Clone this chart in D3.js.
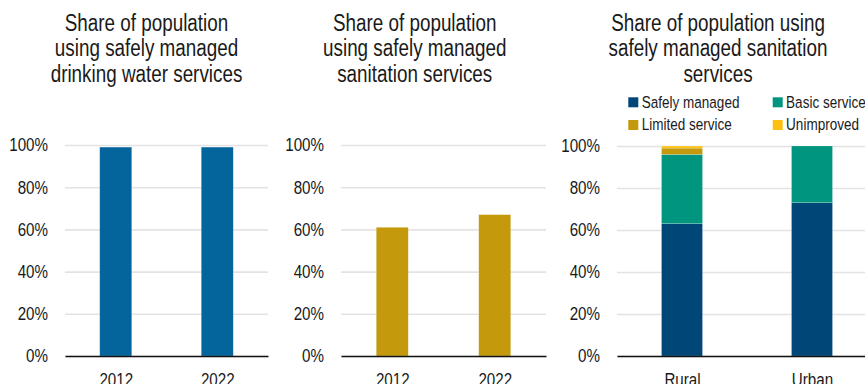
<!DOCTYPE html>
<html>
<head>
<meta charset="utf-8">
<script src="https://cdn.jsdelivr.net/npm/d3@7"></script>
<style>
  html, body { margin: 0; padding: 0; background: #fff; }
  svg { display: block; }
  text { font-family: "Liberation Sans Narrow", "Arial Narrow", "Liberation Sans", Arial, sans-serif; fill: #1a1a1a; }
</style>
</head>
<body>
<svg id="chart" width="865" height="384"></svg>
<script>
// Drinking water: share using safely managed services
const waterYears = ["2012", "2022"];
const waterValues = [99, 99];

// Sanitation: share using safely managed services
const sanitationYears = ["2012", "2022"];
const sanitationValues = [61, 67];

// Sanitation by area, service ladder (percent)
const areas = ["Rural", "Urban"];
const serviceLevels = ["Safely managed", "Basic service", "Limited service", "Unimproved"];
const safelyManaged = [63, 73];
const basicService = [33, 27];
const limitedService = [3, 0];
const unimproved = [1, 0];

const yTicks = [0, 20, 40, 60, 80, 100];

const colors = {
  water: "#04649c",
  sanitation: "#c49a0c",
  "Safely managed": "#004676",
  "Basic service": "#00957f",
  "Limited service": "#c49a0c",
  "Unimproved": "#fec010"
};

const svg = d3.select("#chart");
const TITLE_SIZE = 23, TICK_SIZE = 18.5, LEGEND_SIZE = 16.5;

// Condensed lettering: use a narrow face when present, otherwise squeeze horizontally.
const probe = svg.append("text").style("font-size", "20px").text("Share of population");
const probeWidth = probe.node().getComputedTextLength();
probe.remove();
const SQ = probeWidth > 150 ? 0.82 : 1;   // regular-width face measures ~173px

function title(lines, cx) {
  const t = svg.append("text").attr("text-anchor", "middle")
    .attr("transform", `translate(${cx},0) scale(${SQ},1)`)
    .style("font-size", TITLE_SIZE + "px");
  lines.forEach((ln, i) => t.append("tspan").attr("x", 0).attr("y", 30.7 + i * 25.5).text(ln));
}

function panel(cfg) {
  const g = svg.append("g");
  const y = d3.scaleLinear().domain([0, 100]).range([cfg.y0, cfg.y1]);
  const x = d3.scalePoint().domain(cfg.categories).range([cfg.x0, cfg.x1]).padding(0.5);

  // horizontal gridlines with percent labels
  const yAxis = g.append("g").attr("transform", `translate(${cfg.x0},0)`)
    .call(d3.axisLeft(y).tickValues(yTicks).tickFormat(d => d + "%")
      .tickSize(-(cfg.x1 - cfg.x0)).tickPadding(17));
  yAxis.select(".domain").remove();
  yAxis.selectAll("line").attr("stroke", "#e3e3e3").attr("stroke-width", 1.6);
  yAxis.selectAll("text").style("font-size", TICK_SIZE + "px").attr("fill", "#1a1a1a").attr("font-family", null)
    .attr("x", -17 / SQ).attr("transform", `scale(${SQ},1)`);

  const bars = g.append("g");
  if (cfg.stacks) {
    const rows = cfg.categories.map((c, i) => {
      const r = { cat: c };
      cfg.keys.forEach(k => r[k] = cfg.stacks[k][i]);
      return r;
    });
    const series = d3.stack().keys(cfg.keys)(rows);
    series.forEach(s => {
      bars.selectAll(null).data(s.filter(d => d[1] - d[0] > 0)).join("rect")
        .attr("x", d => x(d.data.cat) - cfg.barW / 2)
        .attr("width", cfg.barW)
        .attr("y", d => y(d[1]))
        .attr("height", d => y(d[0]) - y(d[1]))
        .attr("fill", colors[s.key])
        .attr("stroke", "rgba(255,255,255,0.35)").attr("stroke-width", 0.6);
    });
  } else {
    bars.selectAll("rect").data(cfg.values).join("rect")
      .attr("x", (d, i) => x(cfg.categories[i]) - cfg.barW / 2)
      .attr("width", cfg.barW)
      .attr("y", d => y(d))
      .attr("height", d => y(0) - y(d))
      .attr("fill", cfg.color)
      .attr("stroke", "rgba(255,255,255,0.35)").attr("stroke-width", 0.6);
  }

  // category axis with black baseline
  const xAxis = g.append("g").attr("transform", `translate(0,${cfg.y0})`)
    .call(d3.axisBottom(x).tickSize(0).tickSizeOuter(0).tickPadding(17));
  xAxis.select(".domain").attr("stroke", "#111").attr("stroke-width", 1.6);
  xAxis.selectAll("text").style("font-size", TICK_SIZE + "px").attr("fill", "#1a1a1a").attr("font-family", null)
    .attr("transform", `scale(${SQ},1)`);
}

title(["Share of population", "using safely managed", "drinking water services"], 146.5);
title(["Share of population", "using safely managed", "sanitation services"], 414.7);
title(["Share of population using", "safely managed sanitation", "services"], 718);

panel({ categories: waterYears, values: waterValues, color: colors.water,
  x0: 65, x1: 268, y0: 356, y1: 145, barW: 32 });
panel({ categories: sanitationYears, values: sanitationValues, color: colors.sanitation,
  x0: 341, x1: 546, y0: 356, y1: 145, barW: 32 });
panel({ categories: areas, keys: serviceLevels,
  stacks: { "Safely managed": safelyManaged, "Basic service": basicService,
            "Limited service": limitedService, "Unimproved": unimproved },
  x0: 617, x1: 877, y0: 356, y1: 146, barW: 41 });

// legend, two columns by two rows
const legend = svg.append("g");
const legX = [628.3, 772.7], legY = [97.3, 120];
serviceLevels.forEach((k, i) => {
  const lx = legX[i % 2], ly = legY[Math.floor(i / 2)];
  legend.append("rect").attr("x", lx).attr("y", ly).attr("width", 10).attr("height", 10).attr("fill", colors[k]);
  legend.append("text").attr("transform", `translate(${lx + 13.4},${ly + 10.3}) scale(${SQ},1)`)
    .style("font-size", LEGEND_SIZE + "px").text(k);
});
</script>
</body>
</html>
